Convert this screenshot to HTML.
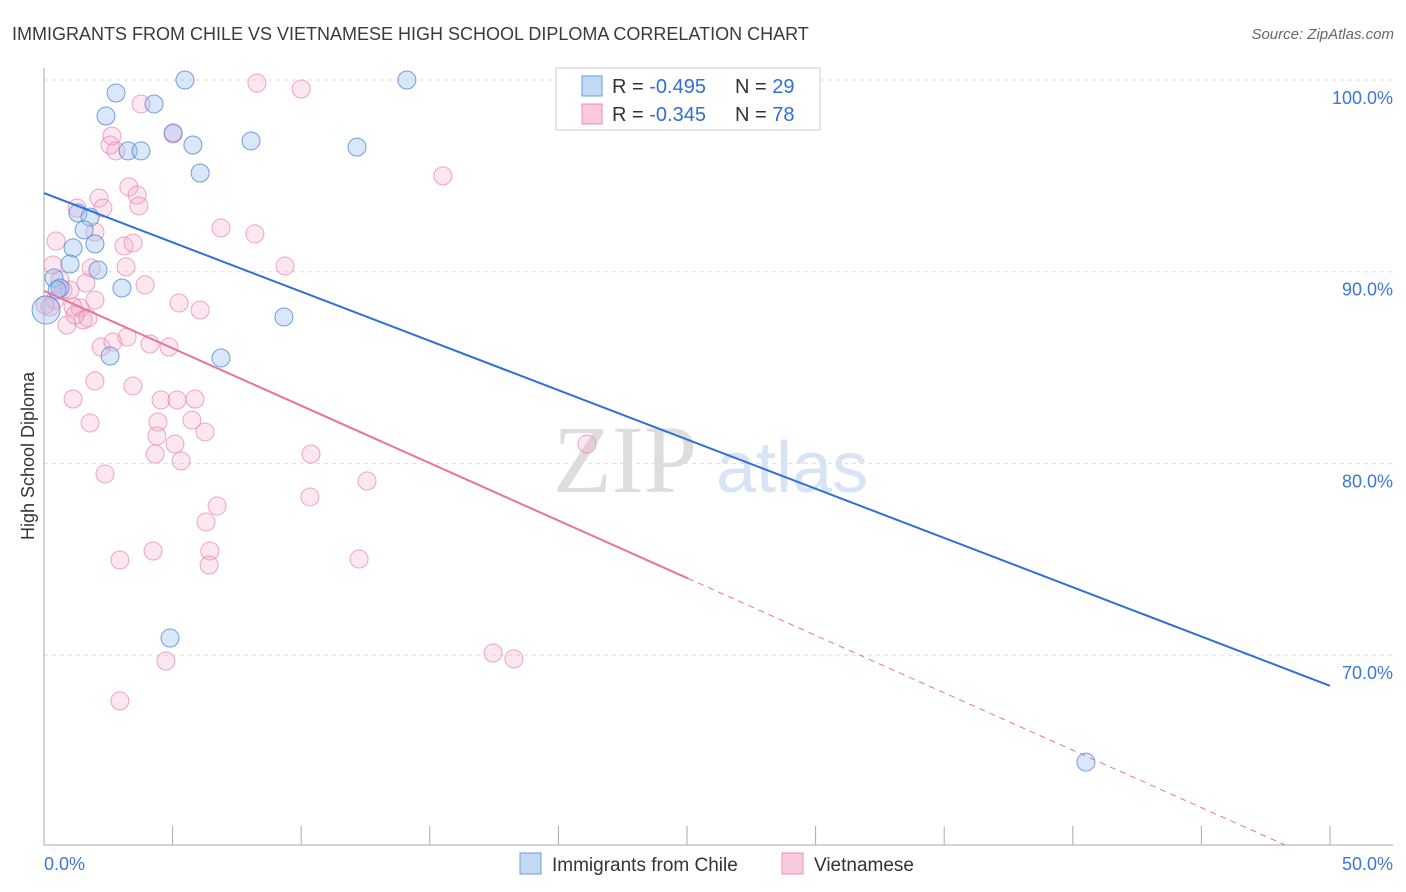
<!DOCTYPE html>
<html><head><meta charset="utf-8"><style>
body{margin:0;background:#fff;font-family:"Liberation Sans",sans-serif;}
svg{display:block}
</style></head><body>
<svg id="chart" width="1406" height="892">
<text x="12" y="40" font-size="18" fill="#3a3a3a">IMMIGRANTS FROM CHILE VS VIETNAMESE HIGH SCHOOL DIPLOMA CORRELATION CHART</text>
<text x="1394" y="39" font-size="15" fill="#666" text-anchor="end" font-style="italic">Source: ZipAtlas.com</text>
<g>
<text x="553" y="492" font-size="96" fill="#ddd" font-family="Liberation Serif,serif">ZIP</text>
<text x="716" y="492" font-size="72" fill="#d6e4f5">atlas</text>
</g>
<g id="grid"></g>
<g id="axes"></g>
<text transform="translate(34,456) rotate(-90)" font-size="18" fill="#333" text-anchor="middle">High School Diploma</text>
<g id="marks"></g>
<g>
<rect x="556" y="68" width="264" height="62" fill="#fff" stroke="#ccc"/>
<rect x="582" y="76" width="20" height="20" fill="#c3d8f5" stroke="#6a9de0"/>
<rect x="582" y="104" width="20" height="20" fill="#f9cadb" stroke="#eb8fb0"/>
<text x="612" y="93" font-size="20" fill="#333">R = <tspan fill="#2f6fd6">-0.495</tspan></text>
<text x="735" y="93" font-size="20" fill="#333">N = <tspan fill="#2f6fd6">29</tspan></text>
<text x="612" y="121" font-size="20" fill="#333">R = <tspan fill="#2f6fd6">-0.345</tspan></text>
<text x="735" y="121" font-size="20" fill="#333">N = <tspan fill="#2f6fd6">78</tspan></text>
</g>
<g>
<rect x="520" y="853" width="21" height="21" fill="#c3d8f5" stroke="#6a9de0"/>
<text x="552" y="871" font-size="19" fill="#333">Immigrants from Chile</text>
<rect x="782" y="853" width="21" height="21" fill="#f9cadb" stroke="#eb8fb0"/>
<text x="814" y="871" font-size="19" fill="#333">Vietnamese</text>
</g>
</svg>
<script>
const yTicks=[100,90,80,70];
const yTickLabels=["100.0%","90.0%","80.0%","70.0%"];
const xTickLabels=["0.0%","50.0%"];
const chileX=[5.48,14.11,2.80,4.28,2.41,5.02,8.05,12.17,3.27,3.77,5.79,6.07,1.32,1.79,1.56,1.98,1.13,1.01,2.10,0.39,0.62,0.51,3.03,9.33,2.57,6.88,4.90,40.51,0.08];
const chileY=[100,100,99.32,98.75,98.12,97.24,96.82,96.50,96.30,96.30,96.61,95.15,93.06,92.85,92.18,91.45,91.24,90.40,90.09,89.67,89.15,89.05,89.15,87.64,85.60,85.50,70.89,64.42,88.0];
const vietX=[8.28,10.00,3.77,5.02,2.64,2.57,2.80,15.51,3.30,3.62,2.14,3.69,2.29,1.28,6.88,8.20,1.98,0.47,3.11,3.46,0.35,3.19,9.37,1.83,1.63,3.93,0.74,1.01,5.25,6.07,0.23,1.40,1.52,0.89,2.22,2.68,3.23,4.12,4.86,1.13,1.71,1.98,3.46,1.13,4.55,5.17,5.87,1.79,4.43,5.75,6.26,4.39,5.09,4.32,5.33,10.38,2.37,12.56,10.34,6.73,6.30,4.24,2.95,6.45,6.42,12.25,4.74,2.95,21.11,17.46,18.27,0.43,0.04,0.62,1.21,1.98];
const vietY=[99.84,99.53,98.75,97.18,97.08,96.61,96.30,95.00,94.42,94.00,93.84,93.43,93.32,93.32,92.28,91.97,92.07,91.60,91.34,91.50,90.35,90.25,90.30,90.19,89.41,89.31,89.05,89.05,88.37,88.00,88.16,88.11,87.48,87.22,86.07,86.33,86.59,86.23,86.07,88.16,87.58,84.30,84.04,83.36,83.31,83.31,83.36,82.11,82.16,82.26,81.64,81.43,81.01,80.49,80.13,80.49,79.45,79.08,78.25,77.78,76.94,75.43,74.96,75.43,74.70,75.01,69.69,67.61,81.01,70.11,69.80,88.52,88.26,89.57,87.74,88.52];
const chileTrend=[94.1,68.4];
const vietTrend=[89.0,74.0,25.04,48.25];
const X=v=>44+v*25.72, Y=v=>80+(100-v)*19.17;
const NS="http://www.w3.org/2000/svg";
function mk(tag,attrs,parent){const e=document.createElementNS(NS,tag);for(const k in attrs)e.setAttribute(k,attrs[k]);parent.appendChild(e);return e;}
const grid=document.getElementById('grid'),axes=document.getElementById('axes'),marks=document.getElementById('marks');
yTicks.forEach((t,i)=>{
 const l=mk('line',{x1:44,x2:1393,y1:Y(t),y2:Y(t),stroke:'#ddd','stroke-dasharray':'4,4'},grid);
 
 
 const tx=mk('text',{x:1393,y:Y(t)+24,'font-size':18,fill:'#3b78d8','text-anchor':'end'},axes);
 tx.textContent=yTickLabels[i];
 
 
});
const ya=mk('line',{x1:44,x2:44,y1:68,y2:845,stroke:'#aaa'},axes);


const xa=mk('line',{x1:44,x2:1393,y1:845,y2:845,stroke:'#aaa'},axes);


for(let v=5;v<=50;v+=5){
 const tk=mk('line',{x1:X(v),x2:X(v),y1:826,y2:845,stroke:'#aaa'},axes);
 
 
}
[[0,'start',44],[50,'end',1393]].forEach((d,i)=>{
 const t=mk('text',{x:d[2],y:870,'font-size':18,fill:'#3b78d8','text-anchor':d[1]},axes);
 t.textContent=xTickLabels[i];
 
 
});
vietX.forEach((x,i)=>{
 const c=mk('circle',{cx:X(x),cy:Y(vietY[i]),r:9,fill:'rgba(245,170,200,0.28)',stroke:'rgba(230,130,165,0.7)','stroke-width':1},marks);
 
 
});
chileX.forEach((x,i)=>{
 const c=mk('circle',{cx:X(x),cy:Y(chileY[i]),r:i==28?14:9,fill:'rgba(160,195,240,0.4)',stroke:'rgba(80,135,220,0.8)','stroke-width':1},marks);
 
 
});
const bl=mk('line',{x1:X(0),y1:Y(chileTrend[0]),x2:X(50),y2:Y(chileTrend[1]),stroke:'#2f6fd6','stroke-width':2},marks);


const slope=(vietTrend[1]-vietTrend[0])/vietTrend[2];
const pl=mk('line',{x1:X(0),y1:Y(vietTrend[0]),x2:X(vietTrend[2]),y2:Y(vietTrend[1]),stroke:'#e8739a','stroke-width':2},marks);


const pd=mk('line',{x1:X(vietTrend[2]),y1:Y(vietTrend[1]),x2:X(vietTrend[3]),y2:Y(vietTrend[0]+slope*vietTrend[3]),stroke:'#e8739a','stroke-width':1,'stroke-dasharray':'6,5'},marks);


</script>
</body></html>
